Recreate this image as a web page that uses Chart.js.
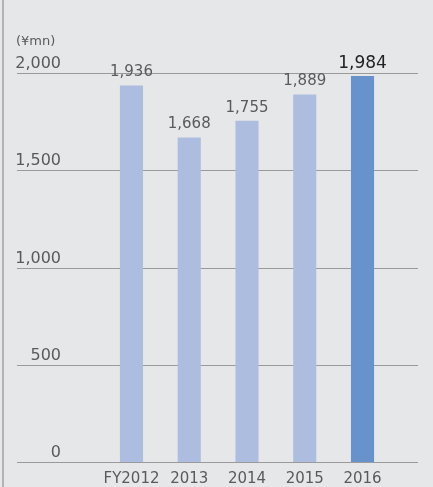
<!DOCTYPE html>
<html>
<head>
<meta charset="utf-8">
<script src="https://cdn.jsdelivr.net/npm/chart.js@4"></script>
<style>
  html, body { margin: 0; padding: 0; background: #e6e7e9; }
  #wrap { width: 433px; height: 487px; }
</style>
</head>
<body>
<div id="wrap"><canvas id="salesChart" width="433" height="487"></canvas></div>
<script>
const years = ['FY2012', '2013', '2014', '2015', '2016'];
const sales = [1936, 1668, 1755, 1889, 1984];
const yTicks = [0, 500, 1000, 1500, 2000];
const unitLabel = '(¥mn)';

const ctx = document.getElementById('salesChart').getContext('2d');
const font = '"DejaVu Sans", sans-serif';

//draw background, border, grid lines and y labels behind the bars
const backdrop = {
    id: 'backdrop',
    beforeDatasetsDraw(chart) {
        const c = chart.ctx;
        const y = chart.scales.y;
        c.save();
        c.fillStyle = '#b3b3b3';
        c.fillRect(2, 0, 2, chart.height);

        c.strokeStyle = '#9a9a9a';
        c.lineWidth = 1;
        c.font = '16px ' + font;
        c.fillStyle = '#5a5a5a';
        c.textAlign = 'right';
        c.textBaseline = 'middle';
        yTicks.forEach(v => {
            const py = Math.round(y.getPixelForValue(v)) + 0.5;
            c.beginPath();
            c.moveTo(17, py);
            c.lineTo(418, py);
            c.stroke();
            c.fillText(v.toLocaleString('en-US'), 61, py - 10);
        });

        c.textAlign = 'left';
        c.font = '13px ' + font;
        c.fillText(unitLabel, 16, 42);
        c.restore();
    }
};

//value labels above each bar
const valueLabels = {
    id: 'valueLabels',
    afterDatasetsDraw(chart) {
        const c = chart.ctx;
        const bars = chart.getDatasetMeta(0).data;
        c.save();
        c.textAlign = 'center';
        c.textBaseline = 'middle';
        bars.forEach((bar, i) => {
            const last = i === bars.length - 1;
            c.font = (last ? '17px ' : '15px ') + font;
            c.fillStyle = last ? '#222222' : '#5a5a5a';
            c.fillText(sales[i].toLocaleString('en-US'), bar.x, bar.y - 13);
        });
        c.restore();
    }
};

new Chart(ctx, {
    type: 'bar',
    data: {
        labels: years,
        datasets: [{
            data: sales,
            backgroundColor: sales.map((v, i) => i === sales.length - 1 ? '#6892cb' : '#adbde0'),
            barPercentage: 0.4,
            categoryPercentage: 1
        }]
    },
    options: {
        responsive: false,
        animation: false,
        layout: {
            padding: { left: 102.6, right: 41.6, top: 73, bottom: 0 }
        },
        scales: {
            x: {
                grid: { display: false },
                border: { display: false },
                ticks: {
                    color: '#5a5a5a',
                    font: { family: font, size: 15 },
                    padding: 0,
                    autoSkip: false,
                    maxRotation: 0,
                    minRotation: 0
                },
                afterFit: scale => { scale.height = 25; }
            },
            y: {
                display: false,
                min: 0,
                max: 2000
            }
        },
        plugins: {
            legend: { display: false },
            tooltip: { enabled: false }
        }
    },
    plugins: [backdrop, valueLabels]
});
</script>
</body>
</html>
